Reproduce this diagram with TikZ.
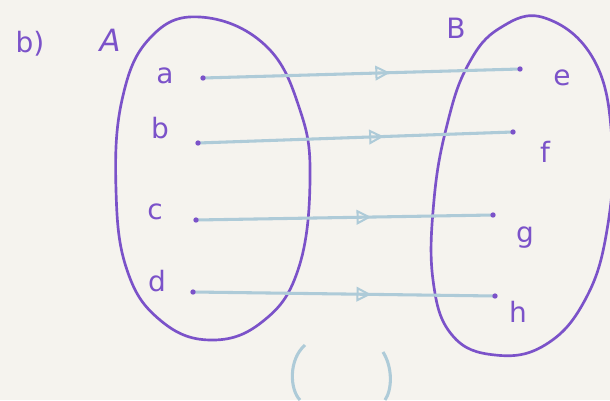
\documentclass[tikz,border=0pt]{standalone}
\usepackage{fontspec}
\setmainfont{DejaVu Sans}
\usetikzlibrary{arrows.meta,decorations.markings}
\definecolor{paper}{HTML}{F5F3EE}
\definecolor{pen}{HTML}{7B52C9}
\definecolor{pale}{HTML}{AECBD8}
\tikzset{
  setline/.style={draw=pen, line width=2pt},
  lbl/.style={text=pen, font=\fontsize{21}{24}\selectfont, inner sep=0pt},
  ptdot/.style={circle, fill=pen, inner sep=0pt, minimum size=4pt},
  mapline/.style={draw=pale, line width=2.3pt, line cap=round,
    postaction={decorate},
    decoration={markings, mark=at position 0.59 with {\arrow[pale, line width=1.5pt]{Triangle[open, length=11pt, width=11pt]}}}},
}
\begin{document}
\begin{tikzpicture}[x=0.75pt,y=-0.75pt]
\fill[paper] (0,0) rectangle (610,400);
\useasboundingbox (0,0) rectangle (610,400);
% set A
\draw[setline] plot[smooth cycle, tension=0.7] coordinates {(200,17) (150,38) (122,100) (116,190) (127,270) (160,320) (210,340) (262,322) (298,270) (310,180) (300,110) (265,45)};
% set B
\begin{scope}
\clip (0,0) rectangle (610,400);
\draw[setline] plot[smooth cycle, tension=0.7] coordinates {(545,18) (500,28) (468,65) (447,125) (434,200) (433,280) (452,335) (495,355) (545,345) (585,300) (607,230) (612,140) (594,60)};
\end{scope}
% labels
\node[lbl] (lb) at (30,44) {b)};
\node[lbl, font=\fontsize{23}{26}\selectfont\itshape] (lA) at (110,40) {A};
\node[lbl] (lB) at (456,28) {B};
\node[lbl] (la) at (165,76) {a};
\node[lbl] (lbb) at (160,128) {b};
\node[lbl] (lc) at (155,212) {c};
\node[lbl] (ld) at (157,281) {d};
\node[lbl] (le) at (562,78) {e};
\node[lbl] (lf) at (545,152) {f};
\node[lbl] (lg) at (525,238) {g};
\node[lbl] (lh) at (518,312) {h};
% points
\coordinate (a) at (203,78);
\coordinate (b) at (198,143);
\coordinate (c) at (196,220);
\coordinate (d) at (193,292);
\coordinate (e) at (520,69);
\coordinate (f) at (513,132);
\coordinate (g) at (493,215);
\coordinate (h) at (495,296);
\draw[mapline] (a) -- (e);
\draw[mapline] (b) -- (f);
\draw[mapline] (c) -- (g);
\draw[mapline] (d) -- (h);
\foreach \p in {a,b,c,d,e,f,g,h} \node[ptdot] at (\p) {};
% partial parentheses at bottom
\draw[pale, line width=2.3pt] (305,345) .. controls (288,360) and (290,390) .. (300,400);
\draw[pale, line width=2.3pt] (383,352) .. controls (393,368) and (392,390) .. (385,400);
\end{tikzpicture}
\end{document}
